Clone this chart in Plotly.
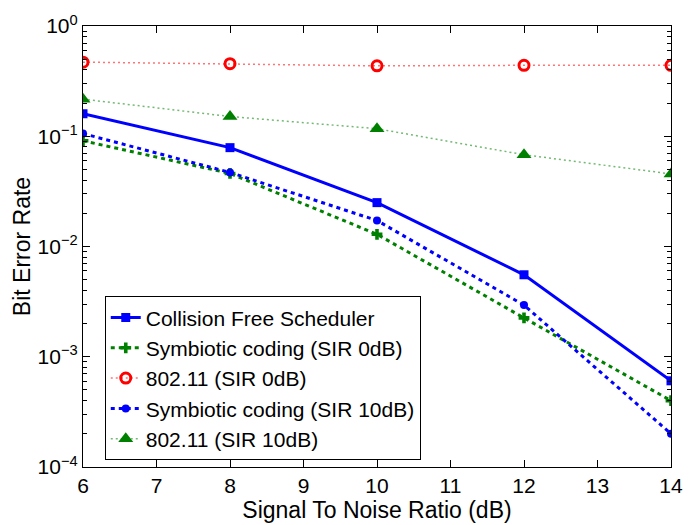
import plotly.graph_objects as go

snr = [6, 8, 10, 12, 14]
cfs = [0.16, 0.0788, 0.025, 0.00554, 6.05e-4]
sym0 = [0.091, 0.046, 0.0129, 0.00225, 4.0e-4]
w80211_0 = [0.47, 0.455, 0.435, 0.44, 0.44]
sym10 = [0.1057, 0.047, 0.0172, 0.00294, 2.0e-4]
w80211_10 = [0.217, 0.151, 0.117, 0.068, 0.0455]

ytickvals = [1e-4, 1e-3, 1e-2, 1e-1, 1]
yticktext = ["10<sup>−4</sup>", "10<sup>−3</sup>", "10<sup>−2</sup>", "10<sup>−1</sup>", "10<sup>0</sup>"]
yminorvals = [m * 10.0 ** e for e in range(-4, 0) for m in range(2, 10)]
xtickvals = [6, 7, 8, 9, 10, 11, 12, 13, 14]

FONT = "Liberation Sans, Arial, Helvetica"

fig = go.Figure()
fig.add_trace(go.Scatter(x=snr, y=cfs, name="Collision Free Scheduler", mode="lines+markers",
                         line=dict(color="#0000ff", width=3),
                         marker=dict(symbol="square", size=9, color="#0000ff")))
fig.add_trace(go.Scatter(x=snr, y=sym0, name="Symbiotic coding (SIR 0dB)", mode="lines+markers",
                         line=dict(color="#008000", width=3, dash="4px,4px"),
                         marker=dict(symbol="cross", size=9, color="#008000")))
fig.add_trace(go.Scatter(x=snr, y=w80211_0, name="802.11 (SIR 0dB)", mode="lines+markers",
                         line=dict(color="rgba(255,0,0,0.55)", width=1.5, dash="2px,3px"),
                         marker=dict(symbol="circle-open", size=10, color="#ff0000", line=dict(width=3))))
fig.add_trace(go.Scatter(x=snr, y=sym10, name="Symbiotic coding (SIR 10dB)", mode="lines+markers",
                         line=dict(color="#0000ff", width=3, dash="4px,4px"),
                         marker=dict(symbol="circle", size=8, color="#0000ff")))
fig.add_trace(go.Scatter(x=snr, y=w80211_10, name="802.11 (SIR 10dB)", mode="lines+markers",
                         line=dict(color="rgba(0,128,0,0.55)", width=1.5, dash="2px,3px"),
                         marker=dict(symbol="triangle-up", size=13, color="#008000")))

axis_common = dict(showline=True, linecolor="black", linewidth=1.2, mirror="ticks",
                   ticks="inside", ticklen=7, tickcolor="black", showgrid=False, zeroline=False,
                   tickfont=dict(family=FONT, size=21, color="black"))

fig.update_xaxes(range=[6, 14], tickvals=xtickvals, **axis_common,
                 title=dict(text="Signal To Noise Ratio (dB)", standoff=0,
                            font=dict(family=FONT, size=23, color="black")))
fig.update_yaxes(type="log", range=[-4, 0], tickvals=ytickvals, ticktext=yticktext, **axis_common,
                 title=dict(text="Bit Error Rate", standoff=0,
                            font=dict(family=FONT, size=23, color="black")))

fig.update_layout(
    width=695, height=525,
    margin=dict(l=83, r=14, t=19, b=54),
    paper_bgcolor="white", plot_bgcolor="white",
    showlegend=True,
    yaxis2=dict(type="log", range=[-4, 0], overlaying="y", side="left", anchor="x",
                tickmode="array", tickvals=yminorvals, ticktext=[""] * len(yminorvals),
                ticks="inside", ticklen=4, tickcolor="black", showline=True, linecolor="black",
                linewidth=1.2, mirror="ticks", showgrid=False, zeroline=False, showticklabels=False),
    legend=dict(x=0.037, y=0.387, xanchor="left", yanchor="top",
                bgcolor="white", bordercolor="black", borderwidth=1,
                font=dict(family=FONT, size=21, color="black"),
                tracegroupgap=0, itemwidth=30),
)

# invisible trace to activate the minor-tick axis
fig.add_trace(go.Scatter(x=[snr[0]], y=[w80211_0[0]], yaxis="y2", mode="markers",
                         marker=dict(opacity=0), showlegend=False, hoverinfo="skip"))

fig.write_html("out.html")
